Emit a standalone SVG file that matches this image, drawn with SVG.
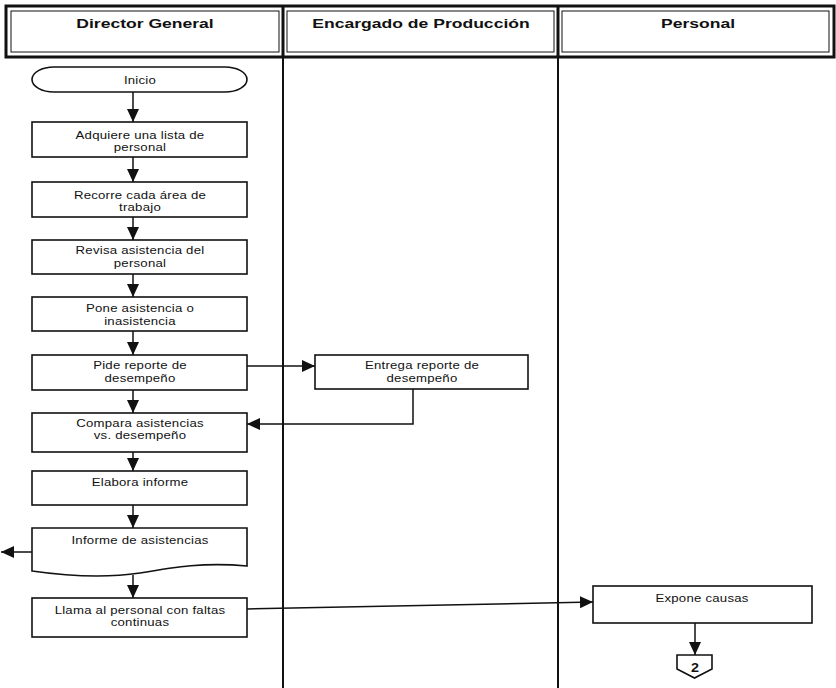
<svg xmlns="http://www.w3.org/2000/svg" width="836" height="688" viewBox="0 0 836 688">
  <style>
    .hdr { font-family: "Liberation Sans", Arial, sans-serif; font-weight: bold; font-size: 13px; fill: #111; text-anchor: middle; }
    .lbl { font-family: "Liberation Sans", Arial, sans-serif; font-size: 11px; letter-spacing: 0.2px; fill: #111; text-anchor: middle; }
    .box { fill: #fff; stroke: #111; stroke-width: 1.6; }
    .lane { stroke: #111; stroke-width: 2; fill: none; }
    .flow { stroke: #111; stroke-width: 1.5; fill: none; marker-end: url(#head); }
  </style>
  <defs>
    <marker id="head" markerUnits="userSpaceOnUse" markerWidth="14" markerHeight="12" refX="13" refY="6" orient="auto">
      <path d="M0,0 L13,6 L0,12 Z" fill="#111"/>
    </marker>
  </defs>

  <rect width="836" height="688" fill="#fff"/>

  <!-- swimlane header -->
  <g id="header">
    <rect x="6" y="6" width="828" height="51" fill="none" stroke="#111" stroke-width="3"/>
    <rect x="11" y="11" width="268" height="41" fill="none" stroke="#111" stroke-width="1"/>
    <rect x="287" y="11" width="267" height="41" fill="none" stroke="#111" stroke-width="1"/>
    <rect x="562" y="11" width="267" height="41" fill="none" stroke="#111" stroke-width="1"/>
    <line x1="283" y1="6" x2="283" y2="57" stroke="#111" stroke-width="3"/>
    <line x1="558" y1="6" x2="558" y2="57" stroke="#111" stroke-width="3"/>
    <text class="hdr" transform="translate(145,28) scale(1.35,1)">Director General</text>
    <text class="hdr" transform="translate(421,28) scale(1.35,1)">Encargado de Producción</text>
    <text class="hdr" transform="translate(698,28) scale(1.35,1)">Personal</text>
  </g>

  <!-- lane separators -->
  <g id="lanes">
    <line class="lane" x1="283" y1="57" x2="283" y2="688"/>
    <line class="lane" x1="558" y1="57" x2="558" y2="688"/>
  </g>

  <!-- connectors -->
  <g id="connectors">
    <line class="flow" x1="133" y1="92" x2="133" y2="122"/>
    <line class="flow" x1="133" y1="157" x2="133" y2="182"/>
    <line class="flow" x1="133" y1="217" x2="133" y2="240"/>
    <line class="flow" x1="133" y1="274" x2="133" y2="297"/>
    <line class="flow" x1="133" y1="331" x2="133" y2="355"/>
    <line class="flow" x1="133" y1="390" x2="133" y2="413"/>
    <line class="flow" x1="133" y1="452" x2="133" y2="471"/>
    <line class="flow" x1="133" y1="505" x2="133" y2="528"/>
    <line class="flow" x1="133" y1="575" x2="133" y2="598"/>
    <line class="flow" x1="247" y1="366" x2="315" y2="366"/>
    <polyline class="flow" points="413,389 413,424 247,424"/>
    <line class="flow" x1="32" y1="552" x2="1" y2="552"/>
    <line class="flow" x1="247" y1="609" x2="593" y2="602"/>
    <line class="flow" x1="695" y1="623" x2="695" y2="655"/>
  </g>

  <!-- Director General lane -->
  <g id="inicio">
    <rect class="box" x="32" y="67" width="215" height="25" rx="22" ry="12.5"/>
    <text class="lbl" transform="translate(140,84) scale(1.2,1)">Inicio</text>
  </g>
  <g id="adquiere">
    <rect class="box" x="32" y="122" width="215" height="35"/>
    <text class="lbl" transform="translate(140,139) scale(1.2,1)">Adquiere una lista de</text>
    <text class="lbl" transform="translate(140,151) scale(1.2,1)">personal</text>
  </g>
  <g id="recorre">
    <rect class="box" x="32" y="182" width="215" height="35"/>
    <text class="lbl" transform="translate(140,199) scale(1.2,1)">Recorre cada área de</text>
    <text class="lbl" transform="translate(140,211) scale(1.2,1)">trabajo</text>
  </g>
  <g id="revisa">
    <rect class="box" x="32" y="240" width="215" height="34"/>
    <text class="lbl" transform="translate(140,254) scale(1.2,1)">Revisa asistencia del</text>
    <text class="lbl" transform="translate(140,267) scale(1.2,1)">personal</text>
  </g>
  <g id="pone">
    <rect class="box" x="32" y="297" width="215" height="34"/>
    <text class="lbl" transform="translate(140,312) scale(1.2,1)">Pone asistencia o</text>
    <text class="lbl" transform="translate(140,325) scale(1.2,1)">inasistencia</text>
  </g>
  <g id="pide">
    <rect class="box" x="32" y="355" width="215" height="35"/>
    <text class="lbl" transform="translate(140,369) scale(1.2,1)">Pide reporte de</text>
    <text class="lbl" transform="translate(140,382) scale(1.2,1)">desempeño</text>
  </g>
  <g id="compara">
    <rect class="box" x="32" y="413" width="215" height="39"/>
    <text class="lbl" transform="translate(140,427) scale(1.2,1)">Compara asistencias</text>
    <text class="lbl" transform="translate(140,439) scale(1.2,1)">vs. desempeño</text>
  </g>
  <g id="elabora">
    <rect class="box" x="32" y="471" width="215" height="34"/>
    <text class="lbl" transform="translate(140,486) scale(1.2,1)">Elabora informe</text>
  </g>
  <g id="informe">
    <path class="box" d="M32,528 H247 V566 C205,562 175,567 140,573 C100,579 60,575 32,571 Z"/>
    <text class="lbl" transform="translate(140,544) scale(1.2,1)">Informe de asistencias</text>
  </g>
  <g id="llama">
    <rect class="box" x="32" y="598" width="215" height="39"/>
    <text class="lbl" transform="translate(140,614) scale(1.2,1)">Llama al personal con faltas</text>
    <text class="lbl" transform="translate(140,626) scale(1.2,1)">continuas</text>
  </g>

  <!-- Encargado de Producción lane -->
  <g id="entrega">
    <rect class="box" x="315" y="355" width="213" height="34"/>
    <text class="lbl" transform="translate(422,369) scale(1.2,1)">Entrega reporte de</text>
    <text class="lbl" transform="translate(422,382) scale(1.2,1)">desempeño</text>
  </g>

  <!-- Personal lane -->
  <g id="expone">
    <rect class="box" x="593" y="586" width="219" height="37"/>
    <text class="lbl" transform="translate(702,602) scale(1.2,1)">Expone causas</text>
  </g>
  <g id="conector2">
    <path class="box" d="M677,655 H712 V669 L694.5,678 L677,669 Z"/>
    <text class="lbl" transform="translate(695,672) scale(1.2,1)" style="font-weight:bold;font-size:12px;letter-spacing:0">2</text>
  </g>
</svg>
